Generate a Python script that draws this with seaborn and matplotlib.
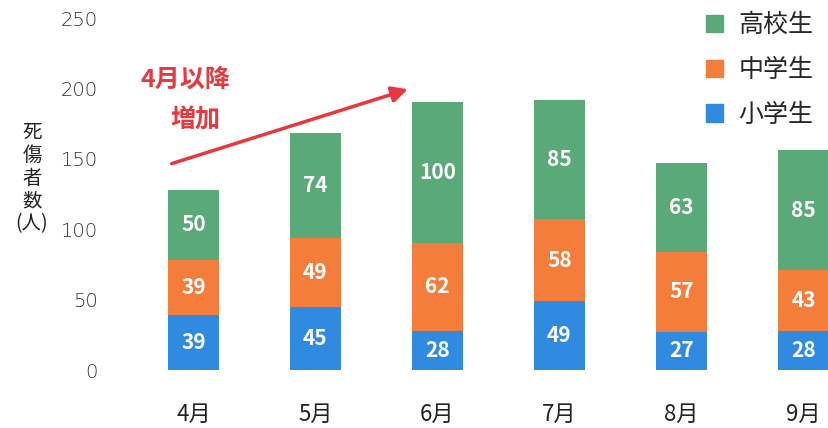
import numpy as np
import pandas as pd
import seaborn as sns
import matplotlib.pyplot as plt
from matplotlib.patches import Patch

# data
months = ['4月', '5月', '6月', '7月', '8月', '9月']
elementary = [39, 45, 28, 49, 27, 28]   # 小学生
junior = [39, 49, 62, 58, 57, 43]       # 中学生
high = [50, 74, 100, 85, 63, 85]        # 高校生
series_names = ['小学生', '中学生', '高校生']
y_ticks = [0, 50, 100, 150, 200, 250]

colors = ['#2f8ae0', '#f47d3c', '#5aa978']

sns.set_theme(style='white')
plt.rcParams['font.family'] = ['Noto Sans CJK JP', 'DejaVu Sans']

fig = plt.figure(figsize=(8.29, 4.28), dpi=100)
ax = fig.add_axes([130 / 829, 58 / 428, 699 / 829, 352 / 428])

df = pd.DataFrame({'month': months, '小学生': elementary, '中学生': junior, '高校生': high})

bottom = np.zeros(len(months))
for name, col in zip(series_names, colors):
    vals = df[name].to_numpy()
    sns.barplot(x=df['month'], y=vals, bottom=bottom, color=col, width=0.42,
                saturation=1, linewidth=0, ax=ax, order=months)
    for i, v in enumerate(vals):
        ax.text(i, bottom[i] + v / 2, str(v), ha='center', va='center',
                color='white', fontsize=15, fontweight='bold')
    bottom = bottom + vals

ax.set_xlim(-0.52, 5.21)
ax.set_ylim(0, 250)
ax.set_yticks(y_ticks)
ax.set_yticklabels([str(t) for t in y_ticks], fontsize=14, color='#333333',
                   family='DejaVu Sans', fontweight='light')
ax.tick_params(axis='x', labelsize=16, colors='#222222', pad=18)
ax.tick_params(axis='y', pad=17)
ax.set_xlabel('')
ax.set_ylabel('')
sns.despine(ax=ax, left=True, bottom=True)

# vertical y label
fig.text(32 / 829, 1 - 178 / 428, '死\n傷\n者\n数\n(人)', ha='center', va='center',
         fontsize=14, color='#222222', linespacing=1.1)

# annotation arrow
ax.annotate('', xy=(1.78, 200), xytext=(-0.2, 146),
            arrowprops=dict(arrowstyle='-|>', color='#e8383d', lw=2.5,
                            mutation_scale=24))
ax.text(-0.43, 206, '4月以降', color='#e8383d', fontsize=18, fontweight='bold',
        ha='left', va='center')
ax.text(-0.19, 177, '増加', color='#e8383d', fontsize=18, fontweight='bold',
        ha='left', va='center')

handles = [Patch(color=c) for c in colors][::-1]
leg = ax.legend(handles, series_names[::-1], loc='upper right',
                bbox_to_anchor=(1.01, 1.08), frameon=False, fontsize=18,
                handlelength=0.7, handleheight=0.7, labelspacing=0.75,
                handletextpad=0.6)

fig.savefig('out.png', dpi=100)
